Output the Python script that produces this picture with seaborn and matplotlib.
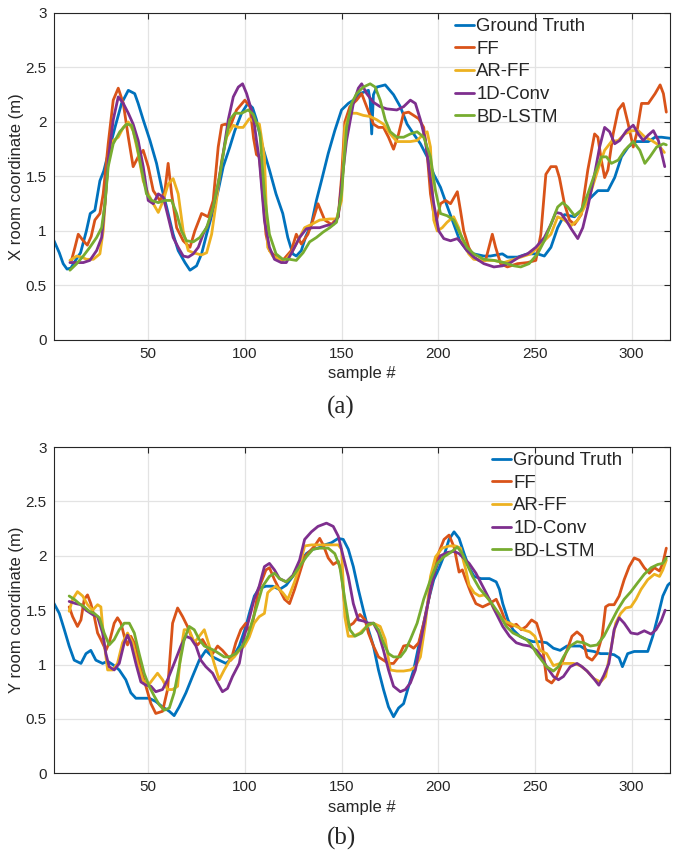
import matplotlib
matplotlib.use("Agg")
import matplotlib.pyplot as plt
import seaborn as sns

# ---- (a) X coordinate ----
a_gt_x = [1, 4, 6, 8, 10, 12, 15, 18, 20, 22.4, 25, 27, 29.3, 32.8, 36.2, 39.7, 43, 44.8, 47.4, 50.9, 54.3, 56.9, 59.5, 62.9,
          65.5, 69, 71.6, 75, 77.6, 80.2, 83.6, 86.2, 88.8, 92.2, 94.8, 98.3, 101.5, 104, 106, 109.2, 112.7, 116.1, 119.6,
          122.2, 124.8, 126.6, 129.2, 131.5, 134.4, 137, 139.6, 143.1, 146.5, 150, 153.5, 156.1, 159.5, 163.9, 164.8, 165.6,
          166.5, 168.2, 172.6, 176.9, 180.4, 183.9, 187.3, 190.8, 194.3, 197.7, 201.2, 204.6, 208.1, 211.2, 214.9, 218.4,
          223.6, 227, 233.2, 235.8, 241, 246.2, 251.4, 254.9, 258.3, 261.8, 265.3, 270.5, 274, 277.4, 282.6, 287.8, 291.3,
          294.8, 298.3, 301.7, 308.7, 312.2, 315.6, 320]
a_gt_y = [0.92, 0.80, 0.70, 0.65, 0.66, 0.72, 0.80, 1.00, 1.16, 1.19, 1.46, 1.55, 1.71, 1.95, 2.17, 2.29, 2.26, 2.17, 2.02, 1.83,
          1.62, 1.40, 1.22, 0.97, 0.82, 0.71, 0.64, 0.68, 0.79, 0.97, 1.19, 1.37, 1.59, 1.77, 1.92, 2.08, 2.17, 2.13, 2.02,
          1.77, 1.56, 1.34, 1.16, 0.94, 0.79, 0.77, 0.82, 0.95, 1.06, 1.28, 1.46, 1.71, 1.92, 2.11, 2.17, 2.20, 2.26, 2.29,
          2.20, 1.89, 2.25, 2.32, 2.34, 2.25, 2.14, 1.98, 1.89, 1.80, 1.68, 1.52, 1.40, 1.23, 1.06, 0.91, 0.82, 0.79, 0.77,
          0.77, 0.79, 0.76, 0.76, 0.79, 0.79, 0.77, 0.85, 1.03, 1.15, 1.13, 1.19, 1.28, 1.37, 1.37, 1.49, 1.68, 1.77, 1.82,
          1.82, 1.86, 1.86, 1.85]

a_ff_x = [10.3, 12.1, 13.8, 16.4, 18.5, 20.5, 22.4, 25, 26.7, 29.3, 31.9, 34.5, 37.1, 39.7, 42.2, 44.8, 47.4, 50, 52.6, 56,
          58.5, 60.3, 62.1, 64.7, 68.1, 71.6, 74.1, 77.6, 81, 83.6, 86.2, 88, 90, 92.2, 95.7, 100, 102.6, 104.5, 106, 107.5,
          109.2, 110.9, 112.7, 116.1, 119.6, 124, 126.6, 129.2, 132.6, 135.2, 137.8, 141.3, 144.8, 148.3, 150, 151.7, 154.3,
          157.8, 160.4, 163, 166.5, 169.1, 171.7, 174.3, 176.9, 179.5, 182.1, 184.7, 187.3, 189.9, 192.5, 194.3, 196, 198.6,
          201.2, 203.8, 206.4, 209.9, 211.5, 213.2, 215.8, 218.4, 221, 224.5, 228, 229.7, 232.3, 235.8, 241, 246.2, 250.5,
          253.1, 255.7, 258.3, 261, 262.7, 265.3, 267.9, 270.5, 274, 277.4, 280.9, 282.6, 284.4, 286.1, 287.8, 290.5, 293.1,
          295.7, 298.3, 300.9, 302.6, 305.2, 308.7, 312.2, 314.8, 316.5, 318]
a_ff_y = [0.73, 0.85, 0.97, 0.91, 0.87, 0.95, 1.10, 1.16, 1.34, 1.80, 2.20, 2.31, 2.17, 1.86, 1.59, 1.68, 1.74, 1.59, 1.37,
          1.28, 1.35, 1.62, 1.34, 1.03, 0.91, 0.85, 1.00, 1.16, 1.13, 1.28, 1.77, 1.97, 1.98, 1.95, 2.11, 2.20, 2.14, 1.85,
          1.70, 1.68, 1.34, 0.97, 0.82, 0.76, 0.73, 0.82, 0.97, 0.88, 0.97, 1.10, 1.25, 1.10, 1.06, 1.13, 1.49, 2.00, 2.14,
          2.20, 2.26, 2.14, 1.98, 1.95, 1.95, 1.86, 1.75, 1.89, 2.08, 2.09, 2.06, 2.03, 1.95, 1.71, 1.34, 1.06, 1.25, 1.28,
          1.25, 1.36, 1.19, 1.00, 0.85, 0.76, 0.73, 0.73, 0.97, 0.85, 0.70, 0.67, 0.70, 0.71, 0.73, 0.97, 1.52, 1.59, 1.59,
          1.49, 1.25, 1.10, 1.06, 1.15, 1.56, 1.89, 1.86, 1.65, 1.49, 1.56, 1.89, 2.11, 2.17, 1.98, 1.77, 1.89, 2.17, 2.17,
          2.26, 2.34, 2.26, 2.09]

a_ar_x = [9.5, 13, 15.5, 18.1, 21.6, 25, 26.7, 29.3, 31.9, 34.5, 37.1, 39.7, 42.2, 44.8, 47.4, 50, 52.6, 55.2, 57.8, 60.3,
          62.9, 65.5, 68.1, 70.7, 73.3, 77.6, 80.2, 82.8, 85.3, 88, 90.5, 94, 96.6, 99.1, 102.3, 104.9, 107.5, 110.1, 111.8,
          114.4, 117.9, 121.4, 124.8, 128.3, 130.9, 134.4, 138.7, 143.9, 147.4, 150, 151.7, 154.3, 157.8, 161.3, 164.8, 168.2,
          171.7, 175.2, 178.6, 182.1, 185.6, 189.1, 192.5, 194.3, 196, 197.7, 199.5, 202.1, 204.6, 208, 210.6, 213.2, 215.8,
          218.4, 223.6, 228.8, 234, 237.5, 242.7, 247.9, 251.4, 254.9, 258.3, 261.8, 265.3, 268.8, 272.2, 275.7, 279.2,
          282.6, 286.1, 289.6, 293.1, 296.5, 300, 303.5, 307, 310.4, 313.9, 317]
a_ar_y = [0.73, 0.77, 0.76, 0.74, 0.74, 0.79, 1.00, 1.65, 1.83, 1.86, 1.95, 2.00, 1.92, 1.71, 1.46, 1.34, 1.25, 1.17, 1.28,
          1.43, 1.48, 1.34, 1.00, 0.82, 0.80, 0.78, 0.80, 0.97, 1.28, 1.65, 1.86, 1.97, 1.95, 1.95, 2.03, 2.00, 1.98, 1.68,
          0.85, 0.77, 0.74, 0.74, 0.82, 0.94, 1.03, 1.06, 1.10, 1.11, 1.11, 1.28, 1.95, 2.08, 2.08, 2.06, 2.05, 2.02, 1.98,
          1.89, 1.82, 1.82, 1.82, 1.83, 1.89, 1.91, 1.77, 1.10, 1.00, 1.03, 1.08, 1.13, 1.03, 0.88, 0.79, 0.74, 0.73, 0.73,
          0.71, 0.73, 0.76, 0.79, 0.85, 0.91, 0.97, 1.13, 1.10, 1.05, 1.10, 1.22, 1.37, 1.56, 1.74, 1.82, 1.83, 1.89, 1.92,
          1.92, 1.86, 1.83, 1.79, 1.72]

a_cv_x = [9.5, 13, 16.4, 19.8, 23.3, 25.9, 27.6, 29.3, 31.9, 34.5, 37.1, 39.7, 42.2, 44.8, 47.4, 50, 52.6, 55.2, 57.8, 60.3,
          62.9, 65.5, 68.1, 70.7, 73.3, 75.9, 78.4, 81, 83.6, 86.2, 88.8, 91.4, 94, 96.6, 98.8, 100.9, 103.4, 104.9, 106,
          107.5, 110.1, 112.7, 115.3, 118.8, 121.4, 124.8, 128.3, 131.8, 135.2, 138.7, 142.2, 145.7, 148.3, 150, 152.6,
          156.1, 158.7, 160.4, 163, 166.5, 170, 173.4, 178.6, 182.1, 185.6, 188.2, 190.8, 193.4, 195.1, 197.7, 200.3, 202.9,
          206.4, 209.9, 211.5, 214.9, 218.4, 223.6, 228.8, 233.2, 237.5, 241.8, 246.2, 250.5, 254.9, 258.3, 260.9, 263.5,
          266.1, 268.8, 272.2, 274.8, 277.4, 280.9, 283.5, 286.1, 288.7, 291.3, 293.9, 297.4, 300.9, 303.5, 306.1, 308.7,
          311.3, 313.9, 315.6, 317.2]
a_cv_y = [0.71, 0.71, 0.71, 0.73, 0.82, 0.94, 1.25, 1.65, 2.02, 2.23, 2.17, 2.08, 1.98, 1.83, 1.59, 1.28, 1.25, 1.34, 1.31,
          1.13, 0.94, 0.85, 0.77, 0.76, 0.79, 0.85, 0.97, 1.06, 1.22, 1.43, 1.71, 2.02, 2.23, 2.32, 2.35, 2.26, 2.11, 1.98,
          1.83, 1.65, 1.10, 0.85, 0.74, 0.71, 0.71, 0.82, 0.94, 1.02, 1.03, 1.03, 1.05, 1.06, 1.13, 1.43, 1.83, 2.17, 2.31,
          2.35, 2.26, 2.18, 2.14, 2.12, 2.11, 2.14, 2.20, 2.17, 2.02, 1.83, 1.59, 1.25, 1.00, 0.93, 0.91, 0.93, 0.90, 0.82,
          0.76, 0.70, 0.67, 0.68, 0.71, 0.76, 0.79, 0.85, 0.94, 1.06, 1.17, 1.16, 1.10, 1.02, 0.93, 1.03, 1.22, 1.52, 1.77,
          1.95, 1.91, 1.80, 1.83, 1.92, 1.97, 1.89, 1.83, 1.88, 1.92, 1.83, 1.71, 1.59]

a_bd_x = [9.5, 13, 16.4, 19.8, 23.3, 25.9, 27.6, 29.3, 31.9, 35.3, 38.8, 41.4, 44, 46.6, 49.1, 51.7, 55.2, 58.6, 62.1, 64.7,
          67.2, 69.8, 73.3, 76.7, 80.2, 83.6, 87.1, 89.7, 92.2, 94.8, 98.3, 101.7, 104.3, 106.9, 107.8, 110.1, 112.7, 116.1,
          119.6, 123.1, 126.6, 130.1, 133.5, 137, 140.5, 143.9, 147.4, 150, 152.6, 155.2, 157.8, 161.3, 164.8, 167.4, 170,
          172.6, 175.2, 178.6, 182.1, 185.6, 189.1, 192.5, 196, 198.6, 201.2, 204.6, 208.1, 211.5, 214.9, 218.4, 223.6,
          228.8, 234, 239.2, 242.7, 247, 251.4, 254.9, 258.3, 261.8, 264.4, 267, 270.5, 274, 277.4, 280.9, 284.4, 287,
          289.6, 293.1, 296.5, 300.9, 304.3, 306.9, 309.5, 313, 316.5, 318]
a_bd_y = [0.64, 0.70, 0.77, 0.85, 0.94, 1.03, 1.25, 1.59, 1.80, 1.91, 1.98, 1.97, 1.80, 1.56, 1.34, 1.28, 1.26, 1.28, 1.28,
          1.16, 1.00, 0.91, 0.90, 0.94, 1.03, 1.22, 1.52, 1.80, 2.02, 2.08, 2.08, 2.11, 2.07, 1.95, 1.89, 1.34, 0.97, 0.79,
          0.74, 0.74, 0.73, 0.80, 0.90, 0.94, 0.99, 1.03, 1.08, 1.34, 1.95, 2.17, 2.26, 2.32, 2.35, 2.32, 2.20, 2.02, 1.91,
          1.86, 1.86, 1.89, 1.91, 1.86, 1.68, 1.37, 1.16, 1.14, 1.10, 0.97, 0.85, 0.79, 0.74, 0.73, 0.71, 0.68, 0.67, 0.70,
          0.79, 0.91, 1.06, 1.22, 1.26, 1.22, 1.14, 1.19, 1.34, 1.52, 1.68, 1.68, 1.62, 1.65, 1.74, 1.82, 1.74, 1.62, 1.68,
          1.77, 1.80, 1.79]

# ---- (b) Y coordinate ----
b_gt_x = [1, 4, 6.6, 9.1, 11.7, 15.2, 17.8, 20.3, 22.9, 26.4, 29, 31.6, 35, 38.4, 41, 43.6, 47.1, 50.5, 53.9, 57.4, 60.9,
          63.4, 66, 69.5, 72.9, 76.4, 79.8, 83.3, 86.7, 90.2, 93.6, 97.1, 100.5, 102.3, 104.9, 107.5, 110.9, 114.4, 117.9,
          121.4, 124.8, 128.3, 131.8, 135.2, 137.8, 141.3, 144.8, 148.3, 150.9, 153.5, 156.1, 158.7, 161.3, 163.9, 166.5,
          169.1, 171.7, 174.3, 176.9, 179.5, 182.1, 184.7, 187.3, 189.9, 192.5, 195.1, 197.7, 200.3, 203, 205.6, 208.2,
          210.8, 213.4, 216, 218.6, 222.1, 226.5, 230, 231.7, 233.4, 236.1, 238.7, 242.2, 245.6, 249.1, 252.6, 256.1, 259.6,
          263.1, 266.6, 270, 273.5, 277, 280.5, 284, 287.5, 291, 293.6, 295.3, 298, 301.4, 304.9, 308.4, 311, 313.6, 316.2,
          318.8, 320]
b_gt_y = [1.57, 1.47, 1.32, 1.17, 1.04, 1.01, 1.10, 1.13, 1.04, 1.01, 1.03, 1.00, 0.95, 0.86, 0.74, 0.69, 0.69, 0.69, 0.66,
          0.61, 0.57, 0.53, 0.61, 0.74, 0.89, 1.04, 1.13, 1.07, 1.04, 1.01, 1.06, 1.17, 1.35, 1.47, 1.63, 1.70, 1.72, 1.72,
          1.69, 1.73, 1.81, 1.93, 2.02, 2.06, 2.07, 2.10, 2.12, 2.16, 2.15, 2.06, 1.90, 1.69, 1.50, 1.32, 1.17, 0.95, 0.77,
          0.61, 0.52, 0.60, 0.64, 0.80, 0.95, 1.17, 1.38, 1.60, 1.78, 1.88, 2.00, 2.15, 2.22, 2.16, 2.02, 1.89, 1.81, 1.79,
          1.79, 1.76, 1.69, 1.56, 1.41, 1.32, 1.26, 1.23, 1.21, 1.21, 1.20, 1.15, 1.13, 1.17, 1.17, 1.17, 1.13, 1.12, 1.10,
          1.10, 1.09, 1.06, 0.98, 1.10, 1.12, 1.12, 1.12, 1.26, 1.44, 1.63, 1.73, 1.75]

b_ff_x = [9.1, 10.9, 13.4, 15.2, 16.9, 18.6, 20.3, 22.1, 23.8, 25.5, 28.1, 29.8, 32.4, 34.1, 35.9, 37.6, 39.3, 41, 43.6,
          46.2, 48.8, 51.4, 53.9, 57.4, 60, 62.6, 65.2, 67.8, 70.3, 72.9, 75.5, 78.1, 80.7, 83.3, 85.9, 88.4, 92.8, 95.3,
          97.9, 100.5, 102.3, 104, 105.7, 107, 108.3, 110.9, 112.7, 115.3, 117.9, 120.5, 123.1, 125.7, 128.3, 130.9, 133.5,
          136.1, 138.7, 140.5, 143.1, 145.7, 148.3, 150, 151.7, 153.5, 156.1, 159.5, 162.2, 163.9, 166.5, 169.1, 171.7,
          174.3, 176.9, 179.5, 182.1, 184.7, 187.3, 189.9, 192.5, 195.1, 197.7, 200.3, 203, 205.6, 208.2, 210.8, 212.5,
          214.3, 216.9, 219.5, 223, 226.5, 230, 232.6, 235.2, 237.8, 240.4, 243, 245.6, 248.3, 250.9, 253.5, 256.1, 258.7,
          261.3, 263.9, 266.6, 269.2, 271.8, 274.4, 277, 279.6, 282.2, 284.8, 286.6, 288.3, 291, 293.6, 296.2, 298.8, 301.4,
          304, 306.6, 309.2, 311.8, 314.5, 316.2, 318]
b_ff_y = [1.53, 1.44, 1.35, 1.41, 1.60, 1.64, 1.56, 1.44, 1.29, 1.23, 1.13, 1.20, 1.38, 1.43, 1.38, 1.26, 1.18, 1.26, 1.17,
          0.95, 0.80, 0.64, 0.55, 0.57, 0.77, 1.38, 1.52, 1.44, 1.35, 1.23, 1.18, 1.23, 1.15, 1.10, 1.17, 1.13, 1.04, 1.20,
          1.32, 1.38, 1.30, 1.38, 1.55, 1.69, 1.75, 1.87, 1.89, 1.78, 1.69, 1.60, 1.56, 1.69, 1.84, 1.99, 2.04, 2.09, 2.16,
          2.10, 1.98, 1.92, 1.95, 1.84, 1.53, 1.35, 1.38, 1.46, 1.41, 1.29, 1.17, 1.07, 1.04, 1.01, 1.01, 1.07, 1.17, 1.18,
          1.15, 1.20, 1.38, 1.60, 1.84, 2.03, 2.15, 2.19, 2.08, 1.85, 1.87, 1.78, 1.66, 1.56, 1.53, 1.56, 1.60, 1.50, 1.38,
          1.35, 1.37, 1.32, 1.35, 1.41, 1.38, 1.23, 0.86, 0.83, 0.89, 1.01, 1.13, 1.26, 1.30, 1.26, 1.07, 1.04, 1.10, 1.26,
          1.53, 1.55, 1.55, 1.63, 1.78, 1.90, 1.98, 1.96, 1.89, 1.84, 1.89, 1.86, 1.93, 2.07]

b_ar_x = [9.1, 10.9, 13.4, 16.1, 18.6, 21.2, 23.8, 25.5, 27.2, 29, 31.6, 34.1, 36.7, 39.3, 41.9, 44.5, 47.1, 49.7, 52.2,
          54.8, 57.4, 60, 62.6, 65.2, 66.9, 68.6, 71.2, 73.8, 76.4, 79, 81.6, 84.1, 86.7, 89.3, 91.9, 94.5, 97.1, 99.7,
          102.2, 104.8, 107.4, 110.1, 111.8, 113.5, 116.1, 119.6, 122.2, 125.7, 128.3, 130.9, 134.4, 138.7, 143.9, 148.3,
          150, 151.7, 153.5, 156.1, 159.5, 163, 166.5, 170, 172.6, 175.2, 178.6, 182.1, 185.6, 188.2, 190.8, 193.4, 196,
          198.6, 202.1, 205.6, 209, 211.6, 212.5, 214.3, 216, 218.6, 221.3, 223.9, 226.5, 229.1, 231.7, 234.3, 237, 240.4,
          243.9, 247.4, 250, 252.6, 256.1, 259.6, 263.1, 266.6, 270, 273.5, 277, 280.5, 284, 286.6, 289.2, 291.8, 294.4,
          297, 299.7, 302.3, 304.9, 308.4, 311.8, 314.5, 316.2, 318]
b_ar_y = [1.49, 1.60, 1.67, 1.63, 1.55, 1.50, 1.55, 1.53, 1.20, 0.95, 0.95, 1.01, 1.20, 1.29, 1.20, 1.01, 0.86, 0.80, 0.86,
          0.92, 0.86, 0.77, 0.77, 0.80, 1.13, 1.32, 1.32, 1.20, 1.26, 1.32, 1.17, 1.01, 0.86, 0.95, 1.03, 1.07, 1.13, 1.17,
          1.25, 1.38, 1.44, 1.47, 1.66, 1.69, 1.72, 1.66, 1.60, 1.76, 1.90, 2.09, 2.10, 2.10, 2.10, 2.10, 2.06, 1.44, 1.26,
          1.26, 1.29, 1.35, 1.38, 1.35, 1.23, 0.95, 0.94, 0.94, 0.95, 0.98, 1.07, 1.38, 1.81, 1.99, 2.07, 2.09, 2.09, 2.07,
          1.99, 1.87, 1.73, 1.66, 1.63, 1.64, 1.60, 1.50, 1.44, 1.40, 1.38, 1.35, 1.32, 1.30, 1.26, 1.13, 1.10, 0.99, 1.01,
          1.01, 1.01, 0.99, 0.94, 0.87, 0.84, 0.89, 1.13, 1.38, 1.47, 1.52, 1.53, 1.60, 1.69, 1.78, 1.83, 1.81, 1.87, 1.96]

b_cv_x = [9.1, 12.6, 15.2, 17.8, 21.2, 23.8, 26.4, 28.1, 29.8, 32.4, 35, 37.6, 39.3, 41, 43.6, 46.2, 48.8, 51.4, 53.9, 57.4,
          60, 63.4, 66.9, 69.5, 72.1, 74.7, 77.2, 79.8, 83.3, 85.9, 88.4, 91, 93.6, 97.1, 99.7, 102.2, 104.8, 107.4, 110.1,
          112.7, 115.3, 117.9, 121.4, 124.8, 128.3, 130.9, 134.4, 137.8, 142.2, 145.7, 148.3, 150.9, 153.5, 156.1, 158.7,
          161.3, 163.9, 166.5, 169.1, 171.7, 174.3, 176.9, 180.4, 183, 185.6, 188.2, 190.8, 193.4, 196, 198.6, 201.2, 204.7,
          208.2, 210.8, 212.5, 216, 219.5, 223, 226.5, 230, 233.4, 236.9, 240.4, 243.9, 247.4, 250.9, 253.5, 256.1, 259.6,
          262.2, 264.8, 268.3, 271.8, 274.4, 277, 280.5, 283.1, 285.7, 288.3, 291, 293.6, 296.2, 299.7, 303.1, 306.6, 310.1,
          312.7, 315.3, 317.4]
b_cv_y = [1.58, 1.56, 1.55, 1.50, 1.46, 1.44, 1.29, 1.10, 0.98, 0.95, 1.01, 1.20, 1.27, 1.20, 1.01, 0.84, 0.81, 0.80, 0.75,
          0.77, 0.86, 1.01, 1.17, 1.26, 1.24, 1.17, 1.04, 0.98, 0.92, 0.83, 0.75, 0.78, 0.89, 1.01, 1.26, 1.42, 1.60, 1.72,
          1.90, 1.93, 1.87, 1.79, 1.76, 1.82, 1.96, 2.15, 2.22, 2.27, 2.30, 2.27, 2.18, 1.99, 1.81, 1.56, 1.41, 1.40, 1.38,
          1.38, 1.29, 1.13, 0.95, 0.80, 0.75, 0.77, 0.83, 0.95, 1.20, 1.44, 1.69, 1.87, 2.00, 2.03, 2.04, 2.02, 1.99, 1.93,
          1.84, 1.72, 1.60, 1.47, 1.35, 1.26, 1.20, 1.18, 1.17, 1.13, 1.07, 0.98, 0.89, 0.86, 0.89, 0.98, 1.01, 0.98, 0.94,
          0.87, 0.81, 0.90, 1.01, 1.32, 1.43, 1.38, 1.29, 1.28, 1.31, 1.28, 1.32, 1.40, 1.50]

b_bd_x = [9.1, 11.7, 14.3, 16.9, 19.5, 22.1, 24.7, 27.2, 29.8, 32.4, 35, 37.6, 40.2, 42.8, 45.3, 47.9, 50.5, 53.1, 55.7, 58.3,
          60.9, 63.4, 66, 68.6, 71.2, 73.8, 76.4, 79, 81.6, 84.1, 86.7, 89.3, 91.9, 95.3, 98.8, 101.4, 104, 106.6, 109.2,
          112.7, 115.3, 117.9, 121.4, 124.8, 128.3, 131.8, 135.2, 138.7, 143.1, 146.5, 149.1, 151.7, 154.3, 156.9, 160.4,
          163.9, 166.5, 169.1, 171.7, 174.3, 176.9, 180.4, 183, 185.6, 189.1, 192.5, 196, 199.5, 202.9, 206.4, 209.9, 212.5,
          215.2, 217.8, 221.3, 224.7, 228.2, 231.7, 235.2, 238.7, 242.2, 245.6, 248.3, 250.9, 253.5, 256.1, 259.6, 262.2,
          264.8, 268.3, 271.8, 275.3, 278.7, 282.2, 285.7, 289.2, 292.7, 296.2, 299.7, 303.1, 306.6, 310.1, 313.6, 316.2, 318]
b_bd_y = [1.63, 1.60, 1.56, 1.53, 1.49, 1.47, 1.43, 1.29, 1.18, 1.23, 1.32, 1.38, 1.38, 1.29, 1.10, 0.92, 0.80, 0.71, 0.63,
          0.58, 0.60, 0.74, 0.98, 1.23, 1.35, 1.32, 1.23, 1.17, 1.15, 1.13, 1.10, 1.07, 1.07, 1.10, 1.17, 1.26, 1.41, 1.56,
          1.72, 1.81, 1.84, 1.79, 1.76, 1.81, 1.90, 1.99, 2.06, 2.07, 2.07, 2.02, 1.90, 1.60, 1.32, 1.26, 1.29, 1.37, 1.38,
          1.32, 1.20, 1.10, 1.07, 1.07, 1.13, 1.23, 1.38, 1.60, 1.78, 1.93, 1.99, 2.03, 2.08, 2.02, 1.91, 1.81, 1.70, 1.63,
          1.55, 1.46, 1.35, 1.29, 1.26, 1.23, 1.18, 1.10, 1.04, 0.98, 0.94, 0.98, 1.07, 1.17, 1.21, 1.20, 1.17, 1.18, 1.26,
          1.38, 1.50, 1.60, 1.67, 1.75, 1.83, 1.89, 1.92, 1.93, 1.98]

names = ["Ground Truth", "FF", "AR-FF", "1D-Conv", "BD-LSTM"]
colors = ["#0072BD", "#D95319", "#EDB120", "#7E2F8E", "#77AC30"]

sns.set_style("white")
plt.rcParams["font.family"] = ["Liberation Sans", "DejaVu Sans"]

fig = plt.figure(figsize=(6.73, 8.57), dpi=100)
ax_a = fig.add_axes([0.0795, 0.6033, 0.9163, 0.3816])
ax_b = fig.add_axes([0.0795, 0.0977, 0.9163, 0.3807])

panels = [
    (ax_a, [(a_gt_x, a_gt_y), (a_ff_x, a_ff_y), (a_ar_x, a_ar_y), (a_cv_x, a_cv_y), (a_bd_x, a_bd_y)],
     "X room coordinate (m)", 0.651, "(a)", 407),
    (ax_b, [(b_gt_x, b_gt_y), (b_ff_x, b_ff_y), (b_ar_x, b_ar_y), (b_cv_x, b_cv_y), (b_bd_x, b_bd_y)],
     "Y room coordinate (m)", 0.711, "(b)", 838),
]

for ax, series, ylab, leg_x, cap, cap_y in panels:
    for (xs, ys), name, col in zip(series, names, colors):
        sns.lineplot(x=xs, y=ys, ax=ax, color=col, lw=2, label=name, sort=False, estimator=None)
    ax.set_xlim(1, 320)
    ax.set_ylim(0, 3)
    ax.set_xticks([50, 100, 150, 200, 250, 300])
    ax.set_yticks([0, 0.5, 1, 1.5, 2, 2.5, 3])
    ax.set_yticklabels(["0", "0.5", "1", "1.5", "2", "2.5", "3"])
    ax.grid(True, color="#e3e3e3", lw=0.9)
    ax.set_axisbelow(True)
    for sp in ax.spines.values():
        sp.set_color("#262626")
        sp.set_linewidth(0.8)
    ax.tick_params(direction="in", top=True, right=True, length=4, width=0.8,
                   colors="#262626", labelsize=11, pad=5)
    ax.set_xlabel("sample #", fontsize=12, color="#262626", labelpad=4)
    ax.set_ylabel(ylab, fontsize=12, color="#262626", labelpad=1)
    ax.legend(loc="upper left", bbox_to_anchor=(leg_x, 0.984), frameon=False, fontsize=13.4,
              handlelength=1.0, handletextpad=0.15, labelspacing=0.3, borderpad=0, borderaxespad=0)
    fig.text(341 / 673, 1 - cap_y / 857, cap, ha="center", va="center",
             family=["Liberation Serif", "DejaVu Serif"], fontsize=18)

fig.savefig("out.png", dpi=100)
